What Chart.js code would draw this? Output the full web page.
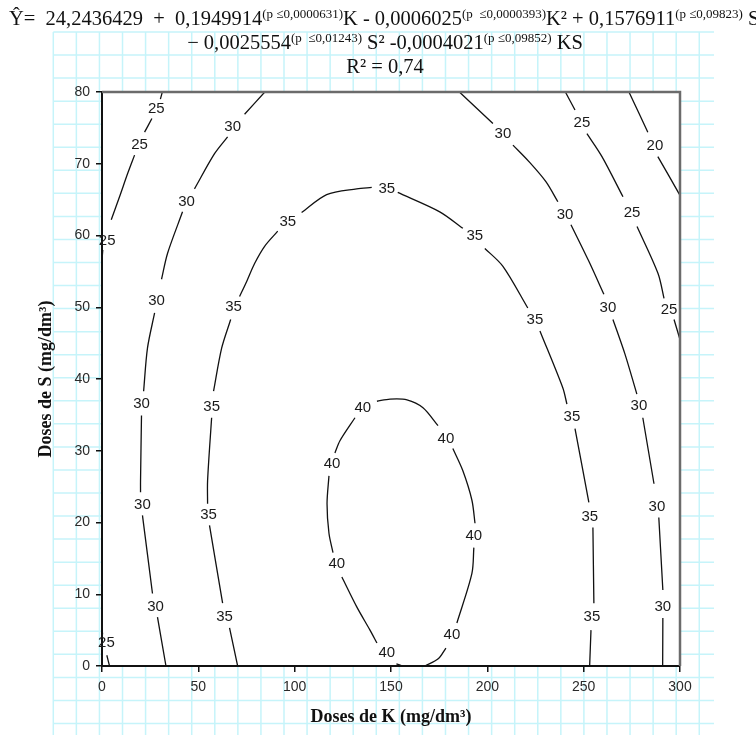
<!DOCTYPE html>
<html><head><meta charset="utf-8">
<script src="https://cdn.jsdelivr.net/npm/chart.js@4.4.1/dist/chart.umd.min.js"></script>
<style>html,body{margin:0;padding:0;background:#fff;}canvas{display:block;}</style>
</head><body>
<canvas id="c" width="756" height="735" style="width:756px;height:735px"></canvas>
<script>
// ---- axis ticks ----
const xTicks = [0, 50, 100, 150, 200, 250, 300];
const yTicks = [0, 10, 20, 30, 40, 50, 60, 70, 80];

// ---- contour lines: [K, S]; null = gap where a label sits ----
const c20 = [[273.5,80],[283.3,74.4],null,[288.5,71],[300,65.6]];
const c25a = [[31.3,80],[30.3,79],null,[25.9,76.3],[22.1,74.4],null,[16.9,71.2],[13.4,68.7],[9.1,65.4],[4.8,62.2],null,[0.4,58],[0,56.6]];
const c25b = [[0,5.3],[0.3,4.4],null,[2.5,1.5],[3.9,0]];
const c25c = [[240.5,80],[245.5,77.5],null,[251.7,74.2],[259.5,71],[270.4,65.4],null,[277.7,61.25],[288.6,54.7],[291.7,51.25],null,[296.9,48.3],[300,45.5]];
const c30a = [[84.5,80],[74,76.9],null,[65.2,73.75],[58.4,71.4],[48,66.5],null,[41.8,63.3],[34,57.5],[30.9,53.9],null,[27.3,49.2],[23.6,44.3],[21.6,38.3],null,[20.5,34.9],[20,25.8],[20,24.2],null,[21,21],[26.2,10.1],null,[28.8,6.8],[33.2,0]];
const c30b = [[185.5,80],[202.9,75.6],null,[213.3,72.6],[221.6,70.3],[230.4,67.5],[236.6,64.7],null,[243.4,61.5],[252.7,56.4],[260.5,51.8],null,[265.2,48.3],[271.4,43.5],[277.6,37.9],null,[280.7,34.6],[286.5,25.4],null,[289,20.7],[291.1,10.6],null,[291.1,6.7],[291,0]];
const c35 = [[70.4,0],[66.2,5.3],null,[62.6,8.75],[55.8,19.6],null,[54.8,22.6],[54.8,25.8],[56.9,34.6],null,[57.9,38.3],[62.1,44.3],[66.8,48.3],null,[71.4,51.5],[75.1,53.6],[79.2,56.1],[84.4,58.5],[91.2,60.6],null,[103.6,63.2],[116.6,65.7],[132.2,66.5],[140,66.7],null,[153.5,66],[175.3,63.3],[187.3,61],null,[198.7,58.2],[208.1,55.7],[221,49.9],null,[227.3,46.7],[239.2,38.75],[241.3,36.5],null,[245.5,33.1],[252.7,22.8],null,[254.8,19.3],[255.3,8.75],null,[253.8,5],[253.1,0]];
const c40 = [[156,0],[152.8,0.3],null,[142.7,3.2],[139.1,5],[132.3,8.2],[124.5,12.4],null,[119.9,15.8],[117.8,18.5],[116.8,22.6],[117.8,26.5],null,[120.9,29.7],[123.5,31.4],[131.3,34.6],null,[142.7,36.9],[149.5,37.2],[158.3,37.1],[166.6,36],[174.4,33.5],null,[182.1,30.3],[187.3,27.2],[192,23.1],[193.6,19.9],null,[193,16.5],[192,12.9],[184.2,6],null,[178.5,2.5],[174.5,1],[167.6,0]];

// ---- contour labels: [K, S] ----
const lab20 = [[287,72.5]];
const lab25 = [[28.2,77.7],[19.5,72.6],[2.7,59.2],[249.1,75.7],[275.1,63.1],[294.3,49.7],[2.3,3.2]];
const lab30 = [[67.8,75.1],[43.9,64.7],[28.3,50.9],[20.5,36.5],[21,22.5],[27.8,8.3],[208.1,74.2],[240.3,62.9],[262.6,49.9],[278.7,36.25],[288,22.2],[291.1,8.2]];
const lab35 = [[63.6,6.8],[55.3,21.1],[56.9,36.1],[68.3,50],[96.4,61.9],[147.8,66.5],[193.5,59.9],[224.7,48.3],[243.9,34.7],[253.2,20.8],[254.3,6.8]];
const lab40 = [[147.8,1.8],[121.9,14.2],[119.4,28.2],[135.4,36],[178.5,31.7],[193,18.1],[181.6,4.3]];

// ---- texts ----
const titleLine1 = [["Ŷ=  24,2436429  +  0,1949914",0],["(p ≤0,0000631)",1],["K - 0,0006025",0],["(p  ≤0,0000393)",1],["K² + 0,1576911",0],["(p ≤0,09823)",1],[" S",0]];
const titleLine2 = [["− 0,0025554",0],["(p  ≤0,01243)",1],[" S² -0,0004021",0],["(p ≤0,09852)",1],[" KS",0]];
const titleLine3 = [["R² = 0,74",0]];
const xTitle = "Doses de K (mg/dm³)";
const yTitle = "Doses de S (mg/dm³)";

const lines = [c20, c25a, c25b, c25c, c30a, c30b, c35, c40];
const labelSets = [[lab20,"20"],[lab25,"25"],[lab30,"30"],[lab35,"35"],[lab40,"40"]];

const datasets = lines.map(arr => ({
  data: arr.map(p => p ? {x:p[0], y:p[1]} : {x:null, y:null}),
  showLine: true, pointRadius: 0, borderColor: '#111', borderWidth: 1.3,
  tension: 0.3, spanGaps: false, fill: false
}));

function richWidth(ctx, parts, size){
  let w = 0;
  parts.forEach(p => { ctx.font = (p[1] ? Math.round(size*0.62) : size) + 'px "Liberation Serif"'; w += ctx.measureText(p[0]).width; });
  return w;
}
function drawRich(ctx, parts, x, y, size, align){
  const w = richWidth(ctx, parts, size);
  let cx = align === 'center' ? x - w/2 : x;
  ctx.textAlign = 'left'; ctx.textBaseline = 'alphabetic';
  parts.forEach(p => {
    ctx.font = (p[1] ? Math.round(size*0.62) : size) + 'px "Liberation Serif"';
    ctx.fillText(p[0], cx, p[1] ? y - size*0.36 : y);
    cx += ctx.measureText(p[0]).width;
  });
}

const bgPlugin = {
  id: 'bg',
  beforeDraw(chart){
    const {ctx, chartArea:a} = chart;
    ctx.save();
    ctx.fillStyle = '#fff'; ctx.fillRect(0,0,chart.width,chart.height);
    ctx.strokeStyle = 'rgb(198,244,250)'; ctx.lineWidth = 1.5;
    ctx.beginPath();
    const gx0 = 53.3, gx1 = 714, gy0 = 32, gy1 = 735;
    for (let x = gx0; x <= 700; x += 23.07){ ctx.moveTo(x, gy0); ctx.lineTo(x, gy1); }
    for (let y = gy0; y <= gy1; y += 23.05){ ctx.moveTo(gx0, y); ctx.lineTo(gx1, y); }
    ctx.stroke();
    ctx.fillStyle = '#fff'; ctx.fillRect(a.left, a.top, a.right-a.left, a.bottom-a.top);
    // title
    ctx.fillStyle = '#111';
    const w1 = richWidth(ctx, titleLine1, 20);
    const size = 20 * 738 / w1;
    drawRich(ctx, titleLine1, 9, 25, size, 'left');
    drawRich(ctx, titleLine2, 385, 49, size, 'center');
    drawRich(ctx, titleLine3, 385, 73, size, 'center');
    // axis titles
    ctx.font = 'bold 18px "Liberation Serif"';
    ctx.textAlign = 'center'; ctx.textBaseline = 'middle';
    ctx.fillText(xTitle, (a.left + a.right)/2, 717);
    ctx.translate(46, (a.top + a.bottom)/2);
    ctx.rotate(-Math.PI/2);
    ctx.fillText(yTitle, 0, 0);
    ctx.restore();
  },
  afterDraw(chart){
    const {ctx, chartArea:a} = chart;
    ctx.save();
    ctx.strokeStyle = '#6b6b6b'; ctx.lineWidth = 2.5;
    ctx.beginPath();
    ctx.moveTo(a.left, a.top); ctx.lineTo(a.right, a.top); ctx.lineTo(a.right, a.bottom);
    ctx.stroke();
    // contour labels
    const xs = chart.scales.x, ys = chart.scales.y;
    ctx.fillStyle = '#1a1a1a';
    ctx.font = '15px "Liberation Sans"';
    ctx.textAlign = 'center'; ctx.textBaseline = 'middle';
    labelSets.forEach(([arr, txt]) => arr.forEach(p => {
      ctx.fillText(txt, xs.getPixelForValue(p[0]), ys.getPixelForValue(p[1]));
    }));
    ctx.restore();
  }
};

new Chart(document.getElementById('c'), {
  type: 'scatter',
  data: { datasets },
  options: {
    responsive: false, animation: false, devicePixelRatio: 1,
    layout: { padding: { left: 72, right: 76, top: 92, bottom: 29 } },
    plugins: { legend: { display: false }, tooltip: { enabled: false }, title: { display: false } },
    scales: {
      x: {
        type: 'linear', min: 0, max: 300,
        afterBuildTicks: s => { s.ticks = xTicks.map(v => ({value: v})); },
        afterFit: s => { s.height = 40; },
        ticks: { font: { family: 'Liberation Sans', size: 14 }, color: '#2a2a2a', padding: 7, maxRotation: 0 },
        grid: { drawOnChartArea: false, drawTicks: true, tickLength: 6, color: '#111', lineWidth: 1.5 },
        border: { display: true, color: '#111', width: 2 }
      },
      y: {
        type: 'linear', min: 0, max: 80,
        afterBuildTicks: s => { s.ticks = yTicks.map(v => ({value: v})); },
        afterFit: s => { s.width = 30; },
        ticks: { font: { family: 'Liberation Sans', size: 14 }, color: '#2a2a2a', padding: 6 },
        grid: { drawOnChartArea: false, drawTicks: true, tickLength: 6, color: '#111', lineWidth: 1.5 },
        border: { display: true, color: '#111', width: 2 }
      }
    }
  },
  plugins: [bgPlugin]
});
</script>
</body></html>
